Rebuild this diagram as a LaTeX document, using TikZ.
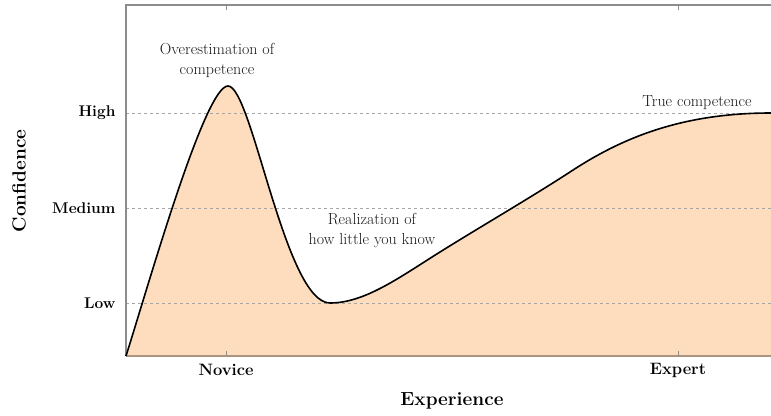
\documentclass[tikz,border=0pt]{standalone}
\begin{document}
\begin{tikzpicture}[x=1pt,y=-1pt,
  frame/.style={draw=black!45,line width=1.2pt},
  grid/.style={draw=black!35,dashed,line width=0.6pt},
  curve/.style={draw=black,line width=1.6pt},
  level/.style={font=\fontsize{15.5}{18}\selectfont\bfseries,anchor=east},
  tickl/.style={font=\fontsize{16.5}{18}\selectfont\bfseries},
  note/.style={font=\fontsize{16}{20}\selectfont,align=center,text=black!90},
  axis/.style={font=\fontsize{19}{21}\selectfont\bfseries}]
\useasboundingbox (0,0) rectangle (771,415);
\definecolor{peach}{HTML}{FDDDBE}
\def\dkcurve{(126,356) .. controls (150,280) and (205,86) .. (228,86)
  .. controls (252,86) and (285,303) .. (330,303)
  .. controls (365,303) and (400,277) .. (440,252)
  .. controls (480,227) and (530,198) .. (570,172)
  .. controls (620,139) and (680,113) .. (771,113)}
% fill under the curve
\fill[peach] \dkcurve -- (771,356) -- cycle;
% grid lines
\coordinate (h0) at (126,113); \coordinate (h1) at (771,113);
\coordinate (m0) at (126,208); \coordinate (m1) at (771,208);
\coordinate (l0) at (126,303); \coordinate (l1) at (771,303);
\draw[grid] (h0) -- (h1);
\draw[grid] (m0) -- (m1);
\draw[grid] (l0) -- (l1);
% frame
\coordinate (tl) at (126,5); \coordinate (tr) at (771,5);
\coordinate (bl) at (126,356); \coordinate (br) at (771,356);
\draw[frame] (tr) -- (tl) -- (bl);
\draw[draw=black!40!brown!60,line width=1.2pt] (bl) -- (br);
\draw[frame,line width=0.8pt] (226,5) -- (226,10);
\draw[frame,line width=0.8pt] (678,5) -- (678,10);
\draw[frame,line width=0.8pt] (226,351) -- (226,356);
\draw[frame,line width=0.8pt] (678,351) -- (678,356);
% curve
\draw[curve] \dkcurve;
% labels
\node[level] (high) at (119,113) {High};
\node[level] (med) at (119,208) {Medium};
\node[level] (low) at (119,303) {Low};
\node[tickl] (nov) at (226,370) {Novice};
\node[tickl] (exp) at (678,370) {Expert};
\node[axis,rotate=90] (conf) at (19,181) {Confidence};
\node[axis] (xp) at (452,401) {Experience};
\node[note] (over) at (217,60) {Overestimation of\\competence};
\node[note] (real) at (372,231) {Realization of\\how little you know};
\node[note] (true) at (697,103) {True competence};
\end{tikzpicture}
\end{document}
